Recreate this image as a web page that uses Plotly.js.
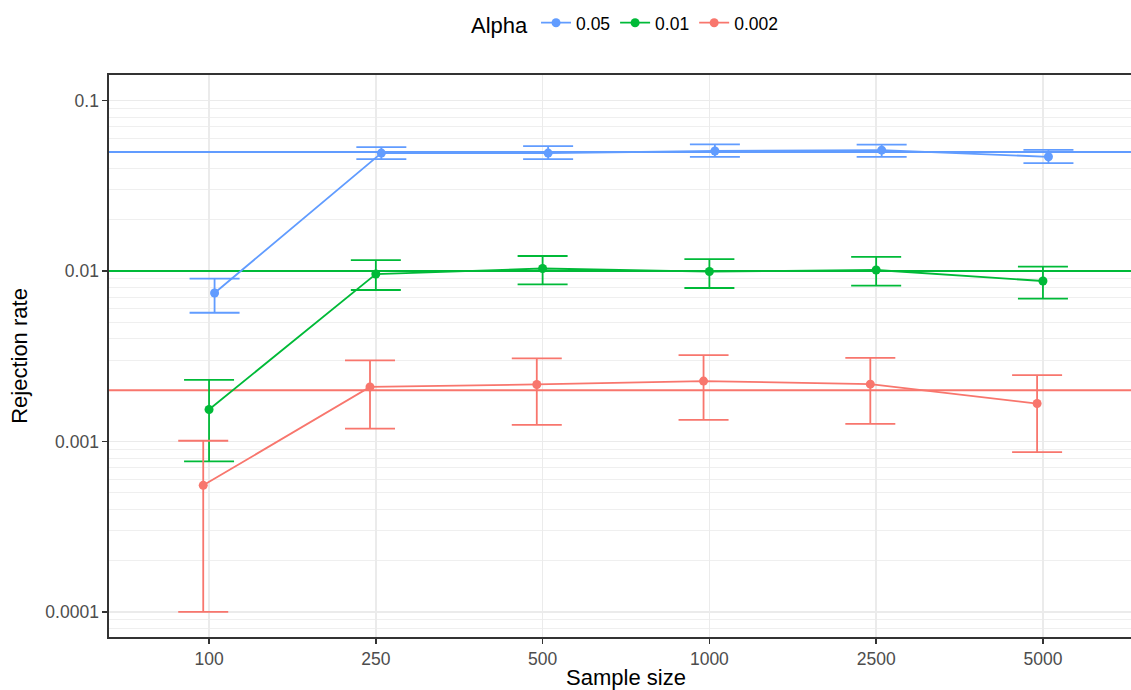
<!DOCTYPE html>
<html>
<head>
<meta charset="utf-8">
<script src="https://cdn.plot.ly/plotly-3.0.1.min.js"></script>
<style>
html,body{margin:0;padding:0;overflow:hidden;background:#fff;width:1131px;height:690px;}
#wrap{width:1131px;height:690px;overflow:hidden;position:relative;}
#chart{width:1150px;height:690px;position:absolute;left:0;top:0;}
</style>
</head>
<body>
<div id="wrap"><div id="chart"></div></div>
<script>
// ---- data ----
const sampleSizes = ['100', '250', '500', '1000', '2500', '5000'];
const alphaLabels = ['0.05', '0.01', '0.002'];
const alphaValues = [0.05, 0.01, 0.002];

const rate005 = [0.00743, 0.0492, 0.0492, 0.0506, 0.0512, 0.0468];
const upper005 = [0.00902, 0.0533, 0.0541, 0.0553, 0.0552, 0.0514];
const lower005 = [0.00569, 0.0454, 0.0454, 0.0467, 0.0467, 0.0430];

const rate001 = [0.00154, 0.00960, 0.01035, 0.00993, 0.01014, 0.00874];
const upper001 = [0.00230, 0.01160, 0.01225, 0.01175, 0.01210, 0.01060];
const lower001 = [0.000764, 0.00774, 0.00834, 0.00795, 0.00820, 0.00689];

const rate0002 = [0.000553, 0.00209, 0.00216, 0.00226, 0.00217, 0.00167];
const upper0002 = [0.00101, 0.00299, 0.00307, 0.00321, 0.00309, 0.00245];
const lower0002 = [0.000100, 0.00119, 0.00125, 0.00134, 0.00127, 0.000867];

const yTickVals = [0.0001, 0.001, 0.01, 0.1];
const yTickText = ['0.0001', '0.001', '0.01', '0.1'];

// ---- styling ----
const colors = ['#619CFF', '#00BA38', '#F8766D'];
const dodge = [0.033, 0, -0.035];
const xRange = [-0.6, 5.6];
const font = 'Liberation Sans, Arial, Helvetica, sans-serif';

const series = [
  {rate: rate005, hi: upper005, lo: lower005},
  {rate: rate001, hi: upper001, lo: lower001},
  {rate: rate0002, hi: upper0002, lo: lower0002}
];

// reference lines (geom_hline) drawn first
const hlines = alphaValues.map((a, k) => ({
  type: 'scatter', mode: 'lines',
  x: xRange, y: [a, a],
  line: {color: colors[k], width: 2},
  showlegend: false, hoverinfo: 'skip'
}));

const traces = series.map((s, k) => ({
  type: 'scatter',
  mode: 'lines+markers',
  name: alphaLabels[k],
  x: sampleSizes.map((_, i) => i + dodge[k]),
  y: s.rate,
  line: {color: colors[k], width: 1.8},
  marker: {color: colors[k], size: 9},
  error_y: {
    type: 'data', symmetric: false,
    array: s.rate.map((v, i) => s.hi[i] - v),
    arrayminus: s.rate.map((v, i) => v - s.lo[i]),
    color: colors[k], thickness: 1.8, width: 25
  },
  hoverinfo: 'x+y'
}));

// minor gridlines at 2..9 x 10^k
const minorVals = [];
for (let e = -5; e <= 0; e++) {
  for (let m = 2; m <= 9; m++) minorVals.push(m * Math.pow(10, e));
}

const layout = {
  width: 1150, height: 690,
  margin: {l: 109, r: 7, t: 75, b: 53},
  paper_bgcolor: '#ffffff', plot_bgcolor: '#ffffff',
  font: {family: font, color: '#000'},
  showlegend: true,
  legend: {
    orientation: 'h', x: 0.5, xanchor: 'center',
    yref: 'container', y: 0.993, yanchor: 'top',
    title: {text: 'Alpha', font: {size: 22, color: '#000'}, side: 'left'},
    font: {size: 17.5, color: '#000'},
    itemwidth: 30, traceorder: 'normal'
  },
  xaxis: {
    range: xRange,
    tickmode: 'array', tickvals: sampleSizes.map((_, i) => i), ticktext: sampleSizes,
    showgrid: true, gridcolor: '#EBEBEB', gridwidth: 1.6,
    zeroline: false,
    showline: true, mirror: true, linecolor: '#333333', linewidth: 1.6,
    ticks: 'outside', ticklen: 5, tickcolor: '#333333', tickwidth: 1.6,
    tickfont: {size: 17.5, color: '#4D4D4D'},
    title: {text: 'Sample size', font: {size: 22, color: '#000'}, standoff: 10}
  },
  yaxis: {
    type: 'log',
    range: [-4.147, -0.850],
    tickmode: 'array', tickvals: yTickVals, ticktext: yTickText,
    showgrid: true, gridcolor: '#EBEBEB', gridwidth: 1.6,
    minor: {tickmode: 'array', tickvals: minorVals, showgrid: true,
            gridcolor: '#EBEBEB', gridwidth: 0.8, ticklen: 0},
    zeroline: false,
    showline: true, mirror: false, linecolor: '#333333', linewidth: 1.6,
    ticks: 'outside', ticklen: 5, tickcolor: '#333333', tickwidth: 1.6,
    tickfont: {size: 17.5, color: '#4D4D4D'},
    title: {text: 'Rejection rate', font: {size: 22, color: '#000'}, standoff: 11}
  }
};

Plotly.newPlot('chart', hlines.concat(traces), layout, {displayModeBar: false, staticPlot: true});
</script>
</body>
</html>
